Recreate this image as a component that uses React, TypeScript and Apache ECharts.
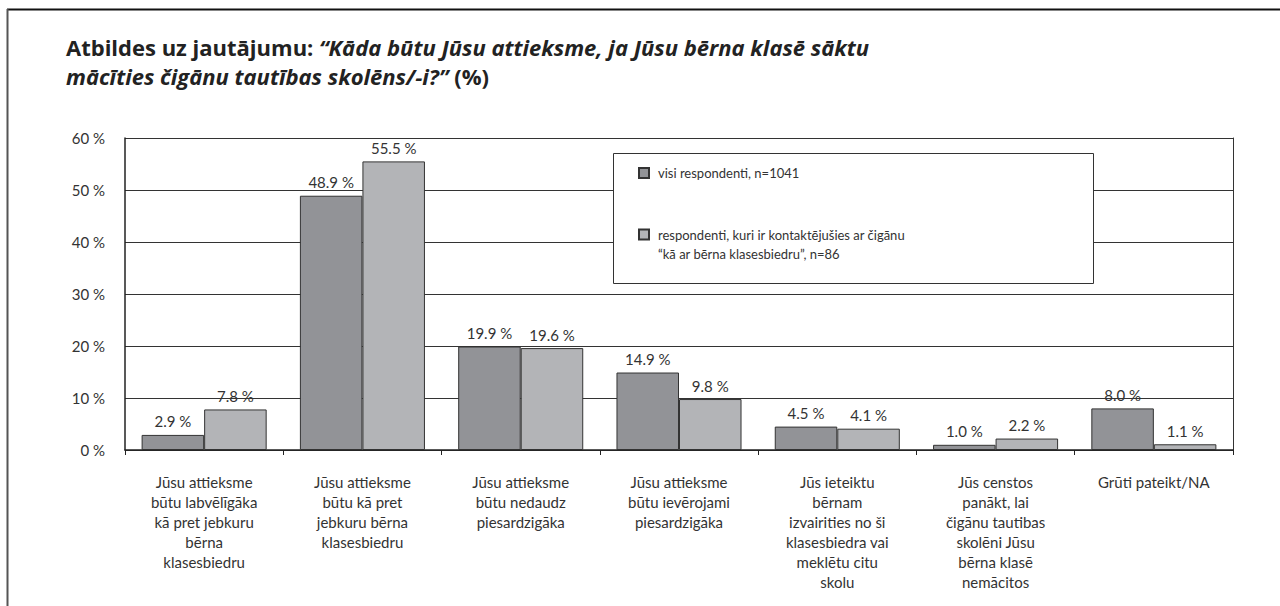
import React, { useEffect, useRef } from "react";
import * as echarts from "echarts";

const categories: string[] = [
  "Jūsu attieksme\nbūtu labvēlīgāka\nkā pret jebkuru\nbērna\nklasesbiedru",
  "Jūsu attieksme\nbūtu kā pret\njebkuru bērna\nklasesbiedru",
  "Jūsu attieksme\nbūtu nedaudz\npiesardzigāka",
  "Jūsu attieksme\nbūtu ievērojami\npiesardzigāka",
  "Jūs ieteiktu\nbērnam\nizvairities no ši\nklasesbiedra vai\nmeklētu citu\nskolu",
  "Jūs censtos\npanākt, lai\nčigānu tautibas\nskolēni Jūsu\nbērna klasē\nnemācitos",
  "Grūti pateikt/NA",
];

const seriesNames: string[] = [
  "visi respondenti, n=1041",
  "respondenti, kuri ir kontaktējušies ar čigānu\n“kā ar bērna klasesbiedru”, n=86",
];

const allRespondents: number[] = [2.9, 48.9, 19.9, 14.9, 4.5, 1.0, 8.0];
const contactRespondents: number[] = [7.8, 55.5, 19.6, 9.8, 4.1, 2.2, 1.1];

const yTicks = { min: 0, max: 60, interval: 10 };

const FONT = "Lato";
const TITLE_FONT = "Open Sans";

export default function App() {
  const ref = useRef<HTMLDivElement>(null);

  useEffect(() => {
    document.body.style.margin = "0";
    if (!ref.current) return;
    const chart = echarts.init(ref.current, null, { renderer: "svg" });

    const labelCfg = {
      show: true,
      position: "top" as const,
      distance: 6,
      fontFamily: FONT,
      fontSize: 15,
      color: "#333",
      formatter: (p: any) => Number(p.value).toFixed(1) + " %",
    };

    const legendText = {
      fontFamily: FONT,
      fontSize: 13,
      color: "#333",
      lineHeight: 19,
      padding: [0, 0, 0, 4],
    };

    chart.setOption({
      animation: false,
      backgroundColor: "#fff",
      textStyle: { fontFamily: FONT },
      title: {
        left: 61,
        top: 27,
        text:
          "{b|Atbildes uz jautājumu: }{bi|“Kāda būtu Jūsu attieksme, ja Jūsu bērna klasē sāktu}\n{bi|mācīties čigānu tautības skolēns/-i?”}{b| (%)}",
        textStyle: {
          rich: {
            b: { fontFamily: TITLE_FONT, fontWeight: "bold", fontSize: 22, color: "#222", lineHeight: 29 },
            bi: {
              fontFamily: TITLE_FONT,
              fontWeight: "bold",
              fontStyle: "italic",
              fontSize: 22,
              color: "#222",
              lineHeight: 29,
            },
          },
        },
      },
      graphic: [
        {
          type: "line",
          z: 10,
          shape: { x1: 7, y1: 9.5, x2: 1280, y2: 9.5 },
          style: { stroke: "#111", lineWidth: 2 },
        },
        {
          type: "line",
          z: 10,
          shape: { x1: 7.5, y1: 9, x2: 7.5, y2: 606 },
          style: { stroke: "#555", lineWidth: 2 },
        },
        {
          type: "rect",
          z: 3,
          shape: { x: 613.5, y: 153.5, width: 480, height: 130 },
          style: { fill: "#fff", stroke: "#333", lineWidth: 1 },
        },
      ],
      legend: [
        {
          data: [seriesNames[0]],
          orient: "vertical",
          left: 638,
          top: 163.5,
          padding: 0,
          itemWidth: 10,
          itemHeight: 10,
          icon: "rect",
          z: 5,
          textStyle: legendText,
        },
        {
          data: [seriesNames[1]],
          orient: "vertical",
          left: 638,
          top: 206,
          padding: 0,
          itemWidth: 10,
          itemHeight: 10,
          icon: "rect",
          z: 5,
          formatter: (name: string) => "\n" + name,
          textStyle: legendText,
        },
      ],
      grid: { left: 125, right: 47, top: 138, bottom: 156, containLabel: false },
      xAxis: {
        type: "category",
        data: categories,
        axisLine: { show: true, lineStyle: { color: "#222", width: 1.5 } },
        axisTick: { show: true, length: 5, lineStyle: { color: "#222" } },
        axisLabel: {
          interval: 0,
          margin: 22,
          fontFamily: FONT,
          fontSize: 15,
          lineHeight: 20,
          color: "#333",
          verticalAlign: "top",
        },
      },
      yAxis: [
        {
          type: "value",
          min: yTicks.min,
          max: yTicks.max,
          interval: yTicks.interval,
          axisLine: { show: true, lineStyle: { color: "#222", width: 1.5 } },
          axisTick: { show: false },
          axisLabel: {
            formatter: "{value} %",
            margin: 20,
            fontFamily: FONT,
            fontSize: 15,
            color: "#333",
          },
          splitLine: { show: true, lineStyle: { color: "#333", width: 1 } },
        },
        {
          type: "value",
          position: "right",
          min: yTicks.min,
          max: yTicks.max,
          interval: yTicks.interval,
          axisLine: { show: true, lineStyle: { color: "#333", width: 1 } },
          axisTick: { show: false },
          axisLabel: { show: false },
          splitLine: { show: false },
        },
      ],
      series: [
        {
          name: seriesNames[0],
          type: "bar",
          data: allRespondents,
          barGap: "0%",
          barCategoryGap: "21%",
          itemStyle: { color: "#929397", borderColor: "#333", borderWidth: 1 },
          label: labelCfg,
          z: 2,
        },
        {
          name: seriesNames[1],
          type: "bar",
          data: contactRespondents,
          barGap: "0%",
          barCategoryGap: "21%",
          itemStyle: { color: "#b3b4b7", borderColor: "#333", borderWidth: 1 },
          label: labelCfg,
          z: 2,
        },
      ],
    });

    return () => chart.dispose();
  }, []);

  return <div ref={ref} style={{ width: 1280, height: 606 }} />;
}
